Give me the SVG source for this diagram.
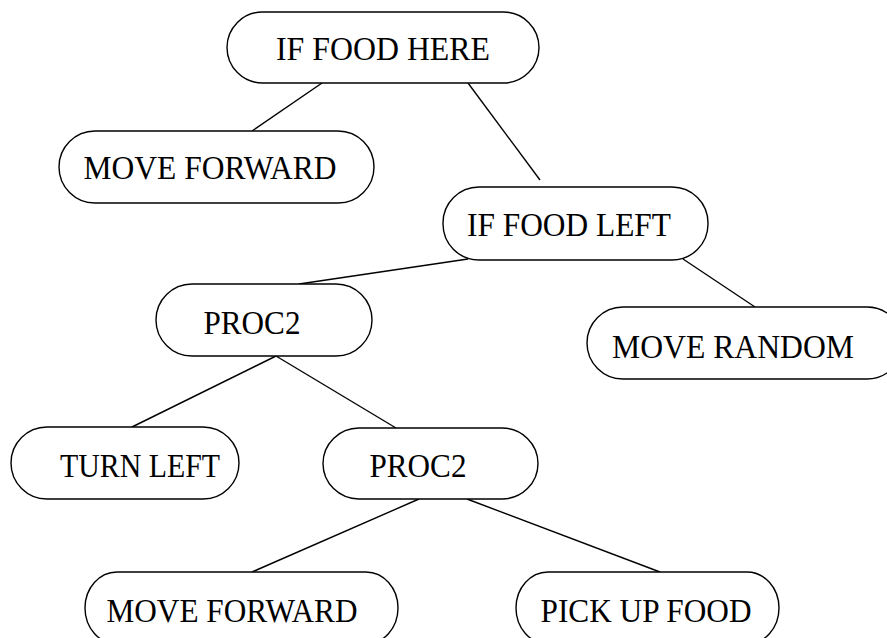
<svg xmlns="http://www.w3.org/2000/svg" width="887" height="638" viewBox="0 0 887 638">
<style>
.box{fill:#fff;stroke:#000;stroke-width:1.4}
.lbl{font-family:"Liberation Serif","Times New Roman",serif;font-size:33px;fill:#000;text-anchor:middle}
.edge{stroke:#000;stroke-width:1.4;fill:none}
</style>
<rect width="887" height="638" fill="#fff"/>
<g id="connectors">
<line class="edge" x1="322" y1="83" x2="252" y2="131"/>
<line class="edge" x1="468" y1="83" x2="540" y2="180"/>
<line class="edge" x1="468" y1="259" x2="299" y2="284"/>
<line class="edge" x1="683" y1="259" x2="755" y2="307"/>
<line class="edge" x1="276" y1="356" x2="132" y2="427"/>
<line class="edge" x1="276" y1="356" x2="396" y2="428"/>
<line class="edge" x1="419" y1="499" x2="252" y2="572"/>
<line class="edge" x1="467" y1="499" x2="660" y2="572"/>
</g>
<g id="n1"><rect class="box" x="227" y="12" width="312" height="71" rx="35.5"/><text class="lbl" x="383" y="60" textLength="214" lengthAdjust="spacingAndGlyphs">IF FOOD HERE</text></g>
<g id="n2"><rect class="box" x="59" y="131" width="315" height="72" rx="36"/><text class="lbl" x="210" y="179" textLength="253" lengthAdjust="spacingAndGlyphs">MOVE FORWARD</text></g>
<g id="n3"><rect class="box" x="443" y="187" width="265" height="73" rx="36"/><text class="lbl" x="569" y="236" textLength="204" lengthAdjust="spacingAndGlyphs">IF FOOD LEFT</text></g>
<g id="n4"><rect class="box" x="156" y="284" width="216" height="72" rx="36"/><text class="lbl" x="252" y="334" textLength="97" lengthAdjust="spacingAndGlyphs">PROC2</text></g>
<g id="n5"><rect class="box" x="587" y="307" width="316" height="72" rx="36"/><text class="lbl" x="733" y="358" textLength="242" lengthAdjust="spacingAndGlyphs">MOVE RANDOM</text></g>
<g id="n6"><rect class="box" x="11" y="427" width="228" height="72" rx="36"/><text class="lbl" x="140" y="477" textLength="160" lengthAdjust="spacingAndGlyphs">TURN LEFT</text></g>
<g id="n7"><rect class="box" x="323" y="428" width="215" height="71" rx="36"/><text class="lbl" x="418" y="477" textLength="97" lengthAdjust="spacingAndGlyphs">PROC2</text></g>
<g id="n8"><rect class="box" x="85" y="572" width="313" height="72" rx="32" ry="36"/><text class="lbl" x="232" y="622" textLength="251" lengthAdjust="spacingAndGlyphs">MOVE FORWARD</text></g>
<g id="n9"><rect class="box" x="516" y="572" width="263" height="72" rx="32" ry="36"/><text class="lbl" x="646" y="622" textLength="211" lengthAdjust="spacingAndGlyphs">PICK UP FOOD</text></g>
</svg>
